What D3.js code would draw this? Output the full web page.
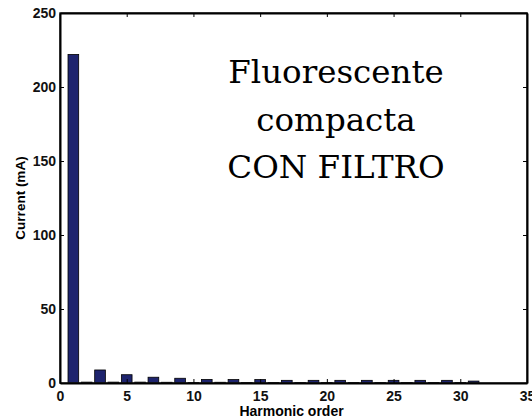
<!DOCTYPE html>
<html>
<head>
<meta charset="utf-8">
<script src="https://cdn.jsdelivr.net/npm/d3@7"></script>
<style>
  body { margin:0; background:#fff; }
  svg text { font-family: Arial, "Liberation Sans", sans-serif; }
</style>
</head>
<body>
<div id="plot"></div>
<script>
// harmonic orders and measured currents (mA)
var harmonics = d3.range(1, 32);
var currents = [222, 0.6, 8.8, 0.6, 5.6, 0.6, 3.9, 0.5, 3.2, 0.4,
                2.4, 0.5, 2.3, 0.4, 2.3, 0.4, 1.8, 0.4, 1.8, 0.4,
                1.8, 0.4, 1.8, 0.4, 1.8, 0.4, 1.8, 0.4, 1.8, 0.4, 1.3];
var xTicks = [0, 5, 10, 15, 20, 25, 30, 35];
var yTicks = [0, 50, 100, 150, 200, 250];
var titleLines = ['Fluorescente', 'compacta', 'CON FILTRO'];

var W = 532, H = 419;
var margin = {t:13, r:5, b:36, l:60};
var width = W - margin.l - margin.r,
    height = H - margin.t - margin.b;

var svg = d3.select('#plot').append('svg')
  .attr('width', W).attr('height', H);

var plot = svg.append('g')
  .attr('transform', 'translate(' + margin.l + ',' + margin.t + ')');

var x = d3.scaleLinear().domain([0, 35]).range([0, width]);
var y = d3.scaleLinear().domain([0, 250]).range([height, 0]);

var barW = x(0.8) - x(0);

// bars
plot.selectAll('rect.bar')
  .data(harmonics)
  .enter().append('rect')
  .attr('class', 'bar')
  .attr('x', function(d){ return x(d) - barW/2; })
  .attr('y', function(d, i){ return y(currents[i]); })
  .attr('width', barW)
  .attr('height', function(d, i){ return height - y(currents[i]); })
  .style('fill', '#1e246e')
  .style('stroke', '#000')
  .style('stroke-width', 0.8);

// box
plot.append('rect')
  .attr('width', width).attr('height', height)
  .style('fill', 'none')
  .style('stroke', '#222')
  .style('stroke-width', 1.5);

// axes, ticks inward
var xAxis = plot.append('g')
  .attr('transform', 'translate(0,' + height + ')')
  .call(d3.axisBottom(x).tickValues(xTicks).tickSizeInner(-4).tickSizeOuter(0).tickPadding(8));
var xTop = plot.append('g')
  .call(d3.axisTop(x).tickValues(xTicks).tickSizeInner(-4).tickSizeOuter(0).tickFormat(''));
var yAxis = plot.append('g')
  .call(d3.axisLeft(y).tickValues(yTicks).tickSizeInner(-4).tickSizeOuter(0).tickPadding(4));
var yRight = plot.append('g')
  .attr('transform', 'translate(' + width + ',0)')
  .call(d3.axisRight(y).tickValues(yTicks).tickSizeInner(-4).tickSizeOuter(0).tickFormat(''));

[xAxis, xTop, yAxis, yRight].forEach(function(a){
  a.attr('font-family', null).attr('font-size', null);
  a.select('.domain').style('stroke', '#000').style('stroke-width', 2);
  a.selectAll('.tick line').style('stroke', '#000').style('stroke-width', 1);
  a.selectAll('.tick text')
    .style('font-family', '"Liberation Sans", Arial, sans-serif')
    .style('font-size', '14px')
    .style('font-weight', 'bold')
    .style('fill', '#111');
});

// axis labels
svg.append('text')
  .attr('x', margin.l + width/2 - 2)
  .attr('y', 416)
  .attr('text-anchor', 'middle')
  .style('font-family', '"Liberation Sans", Arial, sans-serif')
  .style('font-size', '14px')
  .style('font-weight', 'bold')
  .text('Harmonic order');

svg.append('text')
  .attr('transform', 'translate(25,' + (margin.t + height/2) + ') rotate(-90)')
  .attr('text-anchor', 'middle')
  .style('font-family', '"Liberation Sans", Arial, sans-serif')
  .style('font-size', '13.5px')
  .style('font-weight', 'bold')
  .text('Current (mA)');

// annotation
titleLines.forEach(function(t, i){
  svg.append('text')
    .attr('x', 336)
    .attr('y', 83 + i*47.5)
    .attr('text-anchor', 'middle')
    .style('font-family', '"DejaVu Serif", "Liberation Serif", serif')
    .style('font-size', '32.5px')
    .style('fill', '#000')
    .text(t);
});
</script>
</body>
</html>
